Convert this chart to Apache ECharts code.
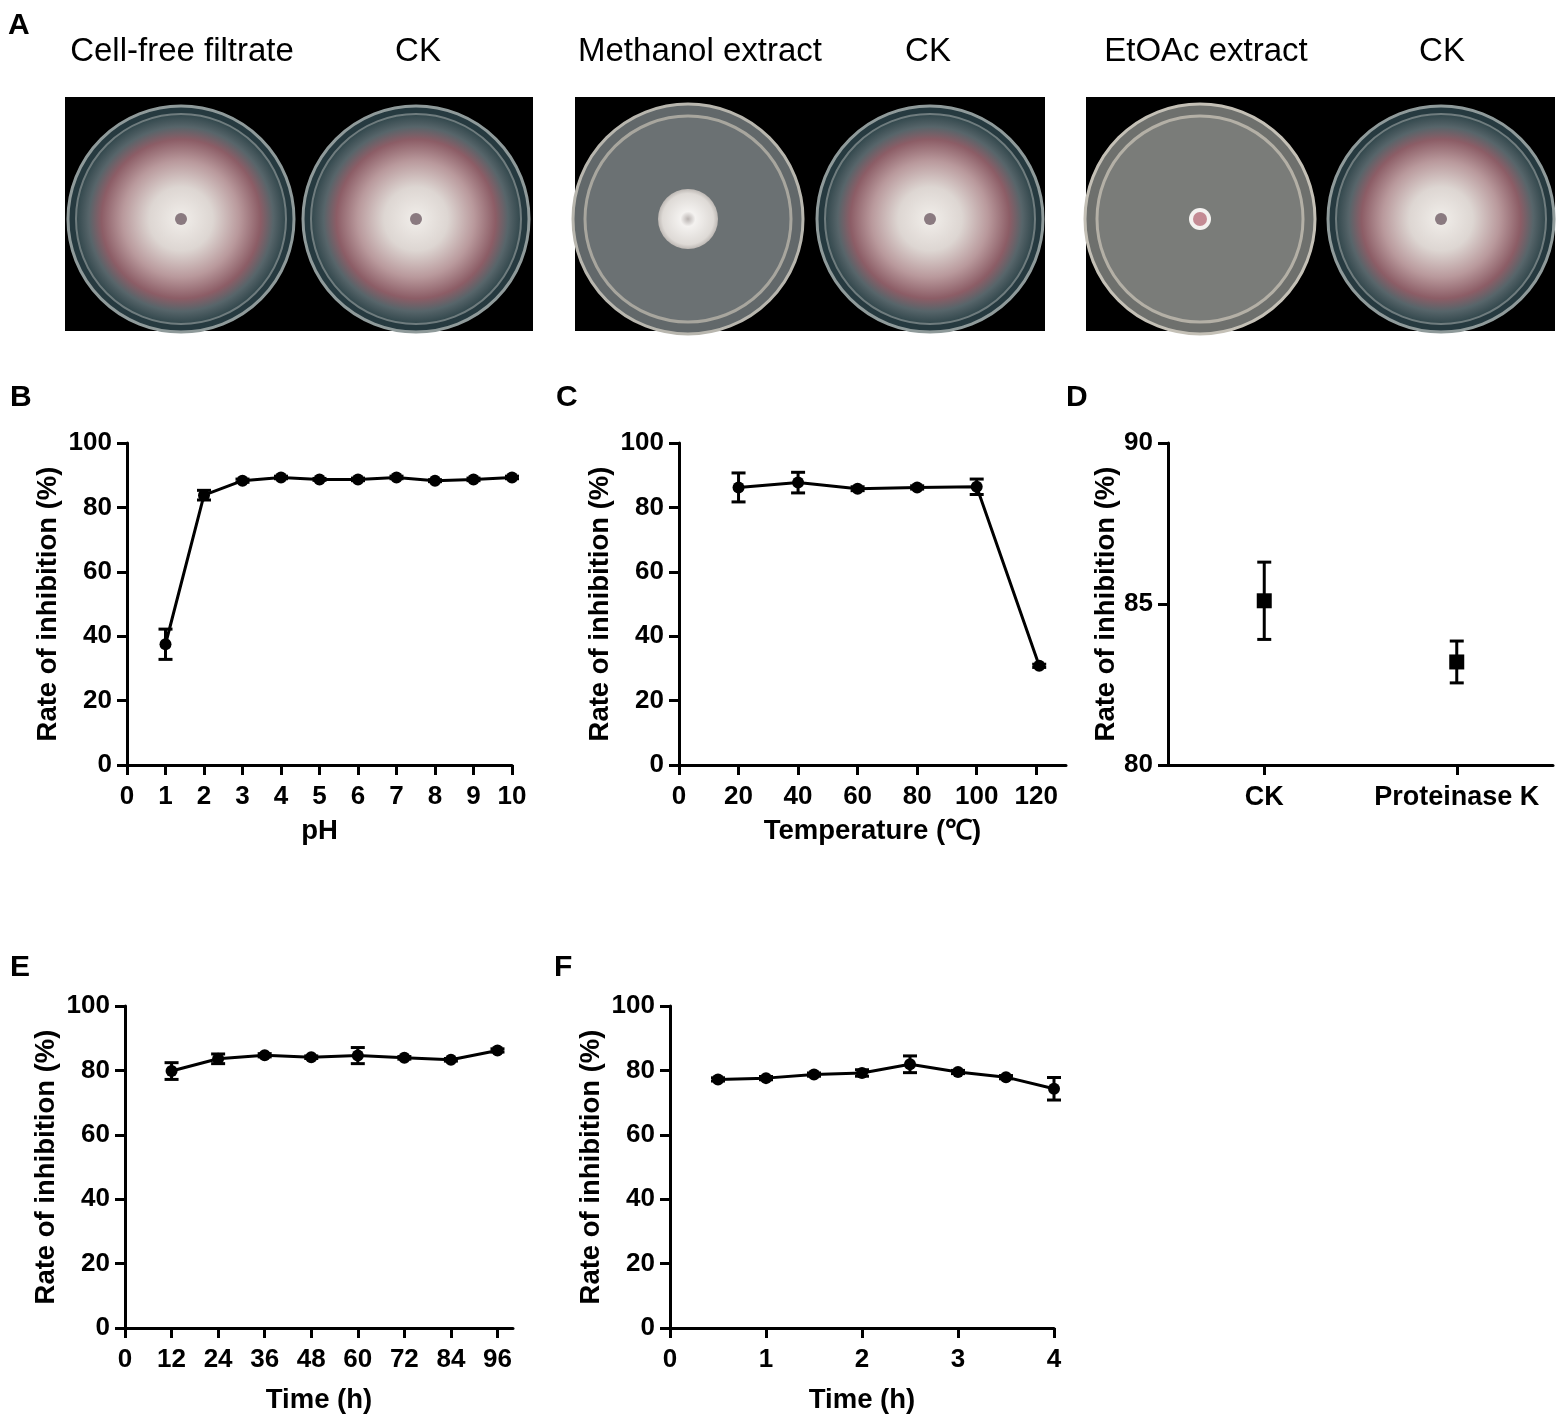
<!DOCTYPE html>
<html>
<head>
<meta charset="utf-8">
<script src="https://cdn.jsdelivr.net/npm/echarts@6/dist/echarts.min.js"></script>
<style>
  html, body { margin: 0; padding: 0; background: #fff; }
  #chart { width: 1562px; height: 1417px; }
</style>
</head>
<body>
<div id="chart"></div>
<script>
// panel B: pH
const phX = [1, 2, 3, 4, 5, 6, 7, 8, 9, 10];
const phMean = [37.5, 83.8, 88.3, 89.3, 88.7, 88.7, 89.3, 88.3, 88.7, 89.3];
const phSd = [4.7, 1.5, 0.5, 0.4, 0.3, 0.4, 0.4, 0.3, 0.4, 0.4];

// panel C: temperature
const tempX = [20, 40, 60, 80, 100, 121];
const tempMean = [86.2, 87.7, 85.8, 86.2, 86.4, 30.8];
const tempSd = [4.5, 3.2, 0.6, 0.5, 2.4, 0.5];
const tempTicks = [0, 20, 40, 60, 80, 100, 120];

// panel D: proteinase K
const enzCats = ['CK', 'Proteinase K'];
const enzMean = [85.1, 83.2];
const enzSd = [1.2, 0.65];

// panel E: time (h)
const uvX = [12, 24, 36, 48, 60, 72, 84, 96];
const uvMean = [79.8, 83.6, 84.7, 84.1, 84.6, 83.9, 83.3, 86.2];
const uvSd = [2.6, 1.5, 0.5, 0.4, 2.5, 0.4, 0.4, 0.5];
const uvTicks = [0, 12, 24, 36, 48, 60, 72, 84, 96];

// panel F: time (h)
const fX = [0.5, 1, 1.5, 2, 2.5, 3, 3.5, 4];
const fMean = [77.2, 77.6, 78.7, 79.2, 81.9, 79.5, 77.9, 74.3];
const fSd = [0.5, 0.5, 0.5, 1.0, 2.6, 0.5, 0.5, 3.5];

const yName = 'Rate of inhibition (%)';
const FONT = '"Liberation Sans", Arial, sans-serif';

const chart = echarts.init(document.getElementById('chart'));

function tick(extra) {
  return Object.assign({ show: true, length: 10, lineStyle: { color: '#000', width: 3 } }, extra || {});
}
function label(margin, extra) {
  return Object.assign({ color: '#000', fontSize: 26, fontWeight: 'bold', fontFamily: FONT, margin: margin }, extra || {});
}
const nameStyle = { color: '#000', fontSize: 27.5, fontWeight: 'bold', fontFamily: FONT };
const line = { show: true, onZero: false, lineStyle: { color: '#000', width: 3 } };

function xVal(grid, min, max, opts) {
  return Object.assign({
    type: 'value', gridIndex: grid, min: min, max: max,
    nameLocation: 'middle', nameGap: 52, nameTextStyle: nameStyle,
    axisLine: line, axisTick: tick(), axisLabel: label(19), splitLine: { show: false }
  }, opts || {});
}

function yVal(grid, min, max, interval, gap) {
  return {
    type: 'value', gridIndex: grid, min: min, max: max, interval: interval,
    name: yName, nameLocation: 'middle', nameGap: gap, nameTextStyle: nameStyle,
    axisLine: line, axisTick: tick(), axisLabel: label(15), splitLine: { show: false }
  };
}

function errBars(idx, xs, mean, sd) {
  return {
    type: 'custom', xAxisIndex: idx, yAxisIndex: idx, z: 3,
    data: xs.map((x, i) => [x, mean[i] - sd[i], mean[i] + sd[i]]),
    renderItem: function (params, api) {
      const lo = api.coord([api.value(0), api.value(1)]);
      const hi = api.coord([api.value(0), api.value(2)]);
      const w = 7;
      const st = { stroke: '#000', lineWidth: 3 };
      return {
        type: 'group',
        children: [
          { type: 'line', shape: { x1: lo[0], y1: lo[1], x2: hi[0], y2: hi[1] }, style: st },
          { type: 'line', shape: { x1: lo[0] - w, y1: lo[1], x2: lo[0] + w, y2: lo[1] }, style: st },
          { type: 'line', shape: { x1: hi[0] - w, y1: hi[1], x2: hi[0] + w, y2: hi[1] }, style: st }
        ]
      };
    }
  };
}

function lineSeries(idx, xs, mean) {
  return {
    type: 'line', xAxisIndex: idx, yAxisIndex: idx, z: 4,
    data: xs.map((x, i) => [x, mean[i]]),
    symbol: 'circle', symbolSize: 12,
    itemStyle: { color: '#000', opacity: 1 },
    lineStyle: { color: '#000', width: 3 }
  };
}

// petri dish pictures for panel A (illustrative only)
function plate(cx, cy, kind) {
  const r = 113;
  const kids = [];
  if (kind === 'ck') {
    kids.push({ type: 'circle', shape: { cx: cx, cy: cy, r: r }, style: { fill: '#263a40', stroke: '#8f9a9a', lineWidth: 3 } });
    kids.push({ type: 'circle', shape: { cx: cx, cy: cy, r: r - 8 }, style: {
      fill: { type: 'radial', x: 0.5, y: 0.5, r: 0.5, colorStops: [
        { offset: 0, color: '#f1eeea' },
        { offset: 0.3, color: '#ddd6d2' },
        { offset: 0.55, color: '#b9999c' },
        { offset: 0.75, color: '#8c5d66' },
        { offset: 0.87, color: '#57656a' },
        { offset: 1, color: '#2e4449' }
      ] },
      stroke: '#6f7c7e', lineWidth: 2 } });
    kids.push({ type: 'circle', shape: { cx: cx, cy: cy, r: 6 }, style: { fill: '#8a7a80' } });
  } else if (kind === 'meoh') {
    kids.push({ type: 'circle', shape: { cx: cx, cy: cy, r: r + 2 }, style: { fill: '#62686a', stroke: '#b8b6ae', lineWidth: 3 } });
    kids.push({ type: 'circle', shape: { cx: cx, cy: cy, r: r - 10 }, style: { fill: '#6b7173', stroke: '#a8a69e', lineWidth: 3 } });
    kids.push({ type: 'circle', shape: { cx: cx, cy: cy, r: 30 }, style: {
      fill: { type: 'radial', x: 0.5, y: 0.5, r: 0.5, colorStops: [
        { offset: 0, color: '#b8b2b0' },
        { offset: 0.25, color: '#f4f2f0' },
        { offset: 0.85, color: '#dedad6' },
        { offset: 1, color: '#bdb8b4' }
      ] } } });
  } else {
    kids.push({ type: 'circle', shape: { cx: cx, cy: cy, r: r + 2 }, style: { fill: '#6e706d', stroke: '#c4c0b6', lineWidth: 3 } });
    kids.push({ type: 'circle', shape: { cx: cx, cy: cy, r: r - 10 }, style: { fill: '#7a7c79', stroke: '#b4b0a6', lineWidth: 3 } });
    kids.push({ type: 'circle', shape: { cx: cx, cy: cy, r: 11 }, style: { fill: '#f4f2f0' } });
    kids.push({ type: 'circle', shape: { cx: cx, cy: cy, r: 7 }, style: { fill: '#c48b94' } });
  }
  return { type: 'group', children: kids };
}

function titleText(x, y, text) {
  return {
    type: 'text', x: x, y: y,
    style: { text: text, fill: '#000', font: '33px ' + FONT, align: 'center', verticalAlign: 'middle' }
  };
}

function letter(x, y, t) {
  return { type: 'text', x: x, y: y, style: { text: t, fill: '#000', font: 'bold 30px ' + FONT, verticalAlign: 'middle' } };
}

const graphics = [
  letter(8, 26, 'A'), letter(10, 398, 'B'), letter(556, 398, 'C'), letter(1066, 398, 'D'),
  letter(10, 968, 'E'), letter(554, 968, 'F'),
  titleText(182, 52, 'Cell-free filtrate'), titleText(418, 52, 'CK'),
  titleText(700, 52, 'Methanol extract'), titleText(928, 52, 'CK'),
  titleText(1206, 52, 'EtOAc extract'), titleText(1442, 52, 'CK'),
  { type: 'rect', shape: { x: 65, y: 97, width: 468, height: 234 }, style: { fill: '#000' } },
  { type: 'rect', shape: { x: 575, y: 97, width: 470, height: 234 }, style: { fill: '#000' } },
  { type: 'rect', shape: { x: 1086, y: 97, width: 469, height: 234 }, style: { fill: '#000' } },
  plate(181, 219, 'ck'), plate(416, 219, 'ck'),
  plate(688, 219, 'meoh'), plate(930, 219, 'ck'),
  plate(1200, 219, 'etoac'), plate(1441, 219, 'ck')
];

const option = {
  animation: false,
  backgroundColor: '#fff',
  textStyle: { fontFamily: FONT },
  graphic: graphics,
  grid: [
    { left: 127, top: 443, width: 385, height: 322 },
    { left: 679, top: 443, width: 387, height: 322 },
    { left: 1168, top: 443, width: 385, height: 322 },
    { left: 125, top: 1006, width: 388, height: 322 },
    { left: 670, top: 1006, width: 384, height: 322 }
  ],
  xAxis: [
    xVal(0, 0, 10, { interval: 1, name: 'pH' }),
    xVal(1, 0, 130, {
      name: 'Temperature (\u2103)',
      axisTick: tick({ customValues: tempTicks }),
      axisLabel: label(19, { customValues: tempTicks })
    }),
    {
      type: 'category', gridIndex: 2, data: enzCats, boundaryGap: true,
      axisLine: line, splitLine: { show: false },
      axisTick: tick({ alignWithLabel: true, interval: 0 }),
      axisLabel: label(19, { interval: 0, fontSize: 27 })
    },
    xVal(3, 0, 100, {
      name: 'Time (h)', nameGap: 58,
      axisTick: tick({ customValues: uvTicks }),
      axisLabel: label(19, { customValues: uvTicks })
    }),
    xVal(4, 0, 4, { interval: 1, name: 'Time (h)', nameGap: 58 })
  ],
  yAxis: [
    yVal(0, 0, 100, 20, 65),
    yVal(1, 0, 100, 20, 65),
    yVal(2, 80, 90, 5, 38),
    yVal(3, 0, 100, 20, 65),
    yVal(4, 0, 100, 20, 65)
  ],
  series: [
    errBars(0, phX, phMean, phSd), lineSeries(0, phX, phMean),
    errBars(1, tempX, tempMean, tempSd), lineSeries(1, tempX, tempMean),
    errBars(2, [0, 1], enzMean, enzSd),
    {
      type: 'scatter', xAxisIndex: 2, yAxisIndex: 2, z: 4,
      data: enzCats.map((c, i) => [i, enzMean[i]]),
      symbol: 'rect', symbolSize: 15, itemStyle: { color: '#000', opacity: 1 }
    },
    errBars(3, uvX, uvMean, uvSd), lineSeries(3, uvX, uvMean),
    errBars(4, fX, fMean, fSd), lineSeries(4, fX, fMean)
  ]
};

chart.setOption(option);
</script>
</body>
</html>
